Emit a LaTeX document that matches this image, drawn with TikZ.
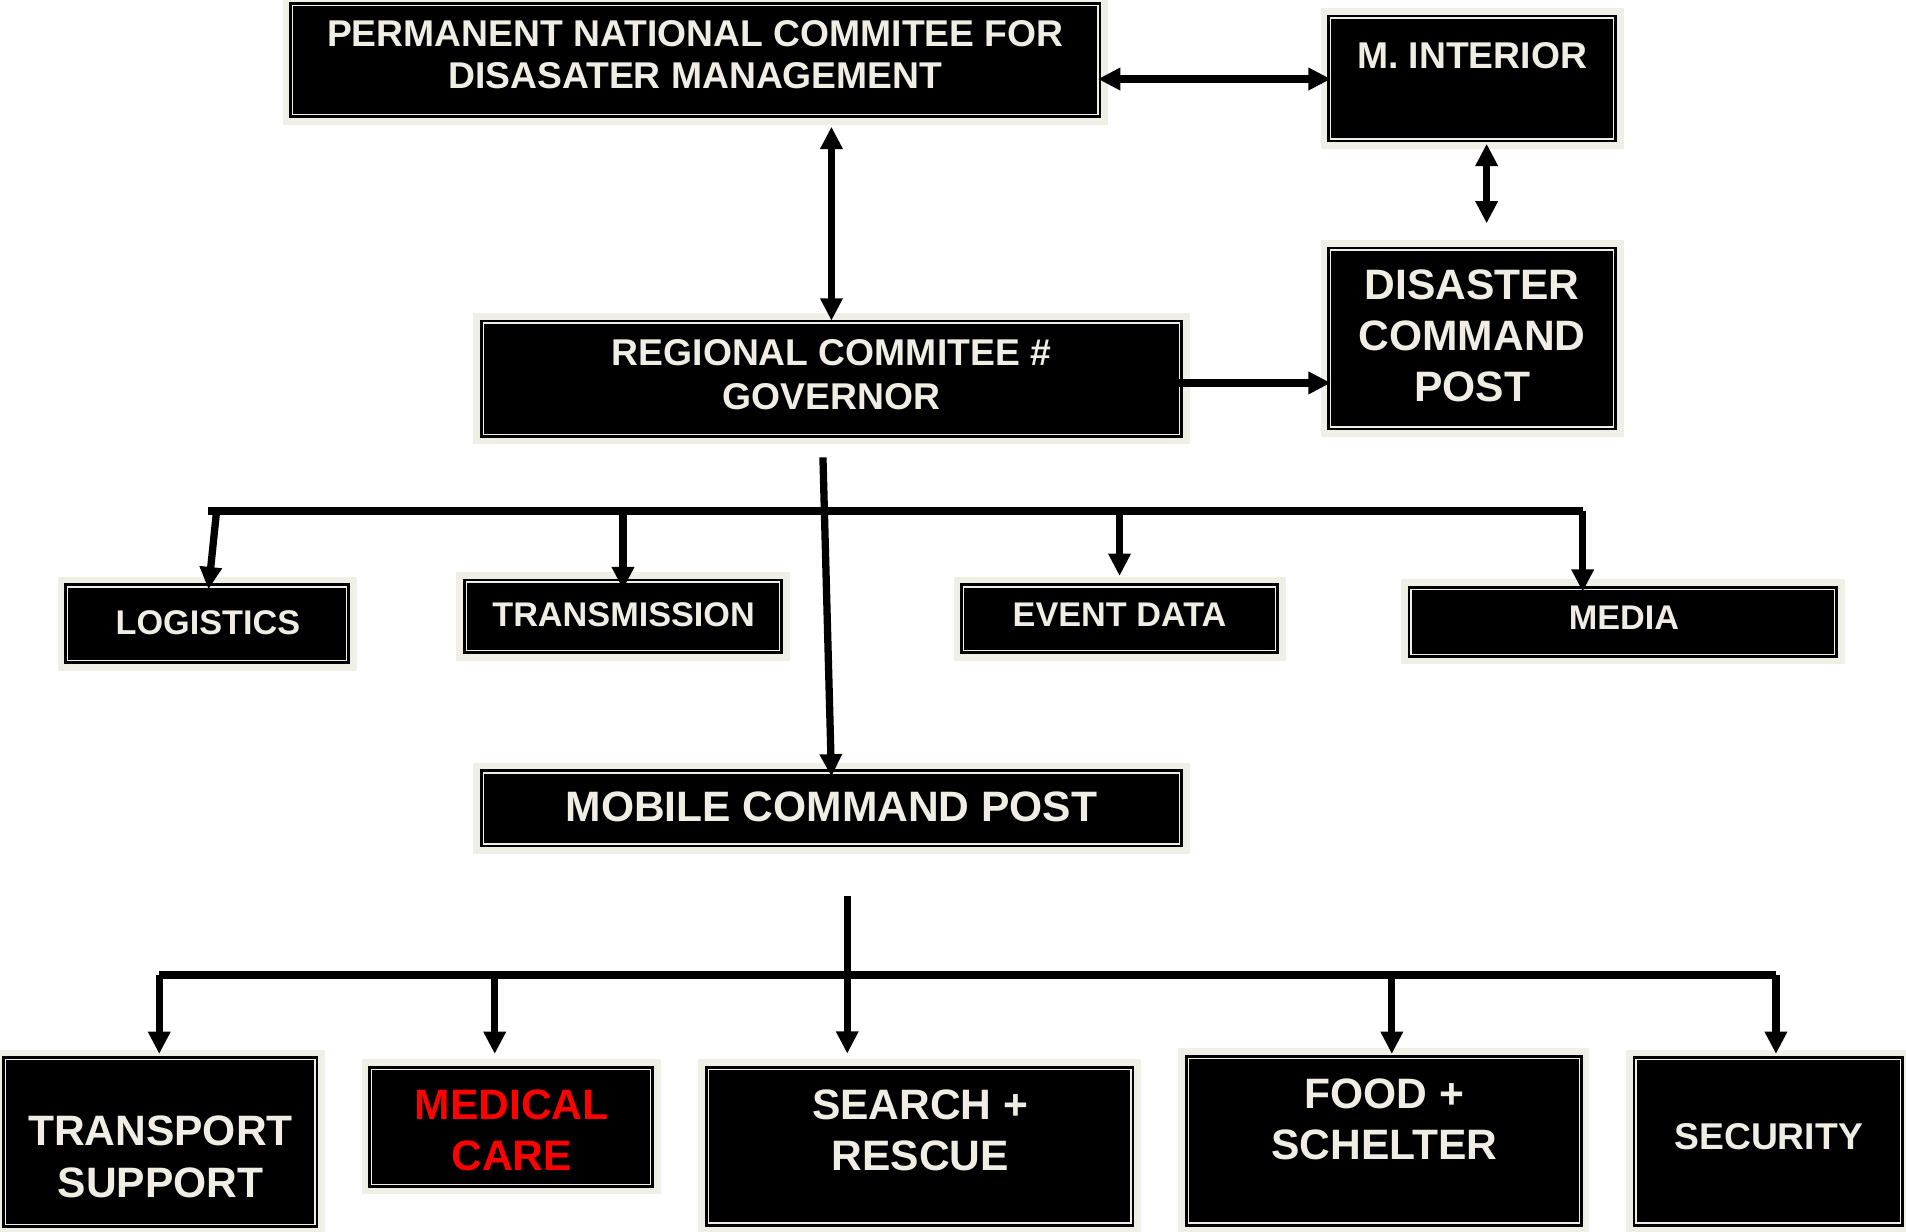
\documentclass[tikz,border=0pt]{standalone}
\usepackage{fontspec}
\setmainfont{Liberation Sans}
\usetikzlibrary{arrows.meta,calc}
\definecolor{boxcream}{HTML}{EFEFE6}
\definecolor{txtcream}{HTML}{F0EEE4}
\definecolor{medred}{HTML}{FF0000}
\newcommand\pbox[5]{\node[box, minimum width={(#4-#2)*0.6pt-3.3pt}, minimum height={(#5-#3)*0.6pt-3.3pt}] (#1) at ({(#2+#4)/2},{(#3+#5)/2}) {};}
\begin{document}
\begin{tikzpicture}[x=0.6pt,y=-0.6pt,
 box/.style={rectangle, inner sep=0pt, outer sep=0pt, fill=black, draw=black, line width=3.3pt,
   preaction={draw=boxcream, line width=10pt}, postaction={draw=txtcream, line width=0.7pt}},
 lbl/.style={inner sep=0pt, anchor=base, text=txtcream},
 fa/.style={font=\fontsize{18.4}{22}\selectfont\bfseries},
 fb/.style={font=\fontsize{21}{25}\selectfont\bfseries},
 fc/.style={font=\fontsize{16.9}{20}\selectfont\bfseries},
 arr/.style={line width=3.6pt, -{Triangle[length=11pt,width=10.5pt]}},
 darr/.style={line width=3.6pt, {Triangle[length=11pt,width=10.5pt]}-{Triangle[length=11pt,width=10.5pt]}},
 bus/.style={line width=4pt}]
\useasboundingbox[fill=white] (0,0) rectangle (1568,1013);

% boxes
\pbox{b1}{238}{2}{906}{97}
\pbox{mi}{1092}{12}{1330}{117}
\pbox{dcp}{1092}{203}{1330}{354}
\pbox{rg}{395}{263}{973}{360}
\pbox{lo}{53}{480}{288}{546}
\pbox{tr}{381}{476}{644}{538}
\pbox{ev}{790}{480}{1052}{538}
\pbox{me}{1158}{482}{1512}{541}
\pbox{mcp}{395}{633}{973}{697}
\pbox{ts}{2}{869}{262}{1010}
\pbox{mc}{303}{877}{538}{977}
\pbox{sr}{580}{877}{933}{1009}
\pbox{fs}{975}{868}{1302}{1009}
\pbox{se}{1343}{869}{1566}{1009}

% texts
\node[lbl,fa] (t1a) at (572,38) {PERMANENT NATIONAL COMMITEE FOR};
\node[lbl,fa] (t1b) at (572,73) {DISASATER MANAGEMENT};
\node[lbl,fa] (t2) at (1211,56) {M. INTERIOR};
\node[lbl,fb] (t3a) at (1211,246) {DISASTER};
\node[lbl,fb] (t3b) at (1211,288) {COMMAND};
\node[lbl,fb] (t3c) at (1211,330) {POST};
\node[lbl,fa] (t4a) at (684,301) {REGIONAL COMMITEE \#};
\node[lbl,fa] (t4b) at (684,337) {GOVERNOR};
\node[lbl,fc] (t5) at (171,522) {LOGISTICS};
\node[lbl,fc] (t6) at (513,515) {TRANSMISSION};
\node[lbl,fc] (t7) at (921,515) {EVENT DATA};
\node[lbl,fc] (t8) at (1336,518) {MEDIA};
\node[lbl,fb] (t9) at (684,676) {MOBILE COMMAND POST};
\node[lbl,fb] (t10a) at (132,942) {TRANSPORT};
\node[lbl,fb] (t10b) at (132,985) {SUPPORT};
\node[lbl,fb,text=medred] (t11a) at (421,921) {MEDICAL};
\node[lbl,fb,text=medred] (t11b) at (421,963) {CARE};
\node[lbl,fb] (t12a) at (757,921) {SEARCH +};
\node[lbl,fb] (t12b) at (757,963) {RESCUE};
\node[lbl,fb] (t13a) at (1139,912) {FOOD +};
\node[lbl,fb] (t13b) at (1139,954) {SCHELTER};
\node[lbl,fa] (t14) at (1455,946) {SECURITY};

% upper connectors
\coordinate (y65) at (0,65);
\coordinate (y315) at (0,315);
\draw[darr] (b1.east |- y65) -- (mi.west |- y65);
\draw[darr] ($(b1.south -| rg.north)+(0,10)$) -- ($(rg.north)+(0,-2)$);
\draw[darr] ($(mi.south)+(12,4)$) -- ($(dcp.north)+(12,-22)$);
\draw[arr] (rg.east |- y315) -- (dcp.west |- y315);
\draw[arr] ($(rg.south)+(-7,19)$) -- ($(mcp.north)+(0,3)$);

% middle bus
\coordinate (bl) at (171,420);
\coordinate (br) at (1302,420);
\draw[bus] (bl) -- (br);
\draw[arr] ($(bl)+(7,2)$) -- ($(lo.north)+(1,2)$);
\draw[arr] (tr.north |- bl) -- ($(tr.north)+(0,6)$);
\draw[arr] (ev.north |- bl) -- ($(ev.north)+(0,-9)$);
\draw[arr] (br) -- ($(me.north -| br)+(0,2)$);

% lower bus
\coordinate (cl) at (131,802);
\coordinate (cm) at (697,802);
\coordinate (cml) at (407,802);
\coordinate (cfs) at (1145,802);
\coordinate (cr) at (1461,802);
\draw[bus] (cl) -- (cr);
\draw[arr] ($(mcp.south -| cm)+(0,43)$) -- ($(sr.north -| cm)+(0,-13)$);
\draw[arr] (cl) -- ($(ts.north -| cl)+(0,-4.75)$);
\draw[arr] (cml) -- ($(mc.north -| cml)+(0,-12.75)$);
\draw[arr] (cfs) -- ($(fs.north -| cfs)+(0,-3.75)$);
\draw[arr] (cr) -- ($(se.north -| cr)+(0,-4.75)$);
\end{tikzpicture}
\end{document}
